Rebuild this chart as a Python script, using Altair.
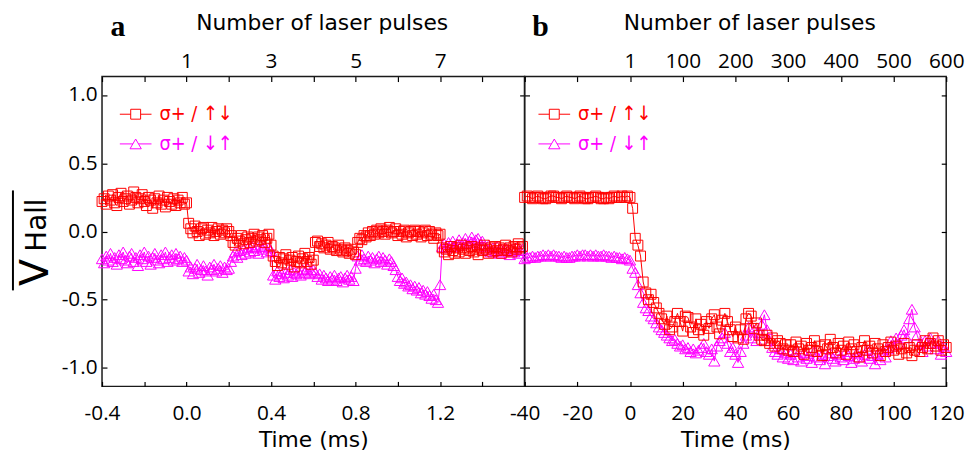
import altair as alt
import pandas as pd

RED = "#ff0000"
MAG = "#ff00ff"
LFONT = "Open Sans, Noto Sans, sans-serif"
TFONT = "DejaVu Sans, sans-serif"
LEGFONT = "Liberation Sans Narrow, DejaVu Sans Condensed, Open Sans, sans-serif"
LFS = 21
TFS = 22

# ---------------- Panel a data (time step 0.01 ms, start -0.40 ms) ----------------
a_t0, a_dt = -0.40, 0.01
a_up = [0.22, 0.24, 0.20, 0.26, 0.23, 0.27, 0.21, 0.19, 0.25, 0.28, 0.22, 0.24, 0.26, 0.20, 0.23, 0.29, 0.25, 0.21, 0.24, 0.27,
        0.22, 0.19, 0.25, 0.23, 0.17, 0.24, 0.21, 0.26, 0.20, 0.23, 0.18, 0.25, 0.22, 0.20, 0.24, 0.19, 0.23, 0.21, 0.25, 0.20, 0.21,
        0.06, 0.02, -0.01, 0.04, 0.00, -0.03, 0.02, 0.03, -0.02, 0.01, -0.01, 0.03, -0.03, 0.00, 0.02, -0.02, 0.01, -0.01, 0.02, 0.00,
        -0.03, -0.08, -0.10, -0.05, -0.07, -0.03, -0.09, -0.06, -0.04, -0.08, -0.05, -0.02, -0.07, -0.04, -0.06, -0.03, -0.08, -0.05, -0.02, -0.10,
        -0.18, -0.22, -0.25, -0.19, -0.23, -0.20, -0.17, -0.24, -0.21, -0.19, -0.26, -0.22, -0.18, -0.23, -0.20, -0.16, -0.22, -0.19, -0.24, -0.21,
        -0.08, -0.07, -0.11, -0.09, -0.12, -0.10, -0.08, -0.13, -0.11, -0.12, -0.14, -0.10, -0.13, -0.15, -0.12, -0.14, -0.16, -0.13, -0.15, -0.17,
        -0.08, -0.05, -0.06, -0.03, -0.04, -0.01, -0.03, 0.00, -0.02, 0.01, -0.01, 0.02, 0.00, -0.02, 0.01, 0.03, -0.01, 0.00, 0.02, -0.03,
        0.00, -0.02, 0.01, -0.04, -0.01, 0.00, -0.03, 0.01, -0.02, 0.00, -0.04, -0.01, 0.01, -0.03, 0.00, -0.02, -0.05, -0.01, -0.03, -0.02,
        -0.12, -0.15, -0.13, -0.17, -0.11, -0.14, -0.16, -0.12, -0.15, -0.10, -0.13, -0.16, -0.12, -0.14, -0.11, -0.15, -0.13, -0.17, -0.12, -0.14,
        -0.10, -0.13, -0.16, -0.12, -0.15, -0.11, -0.14, -0.12, -0.16, -0.13, -0.10, -0.14, -0.12, -0.15, -0.11, -0.13, -0.09, -0.12, -0.11]
a_down = [-0.20, -0.23, -0.18, -0.21, -0.16, -0.22, -0.19, -0.24, -0.17, -0.20, -0.15, -0.21, -0.23, -0.18, -0.16, -0.22, -0.19, -0.25, -0.17, -0.20,
          -0.15, -0.22, -0.18, -0.24, -0.19, -0.16, -0.21, -0.23, -0.17, -0.20, -0.15, -0.22, -0.19, -0.17, -0.21, -0.16, -0.20, -0.18, -0.22, -0.19, -0.21,
          -0.29, -0.26, -0.31, -0.27, -0.24, -0.30, -0.28, -0.25, -0.29, -0.32, -0.26, -0.28, -0.24, -0.29, -0.27, -0.25, -0.30, -0.26, -0.28, -0.27,
          -0.22, -0.18, -0.15, -0.19, -0.14, -0.17, -0.13, -0.16, -0.12, -0.15, -0.11, -0.14, -0.12, -0.16, -0.10, -0.13, -0.11, -0.15, -0.12, -0.14,
          -0.32, -0.35, -0.29, -0.33, -0.31, -0.34, -0.30, -0.32, -0.28, -0.33, -0.30, -0.31, -0.29, -0.32, -0.28, -0.30, -0.27, -0.31, -0.29, -0.28,
          -0.30, -0.33, -0.31, -0.35, -0.32, -0.34, -0.36, -0.33, -0.35, -0.32, -0.36, -0.34, -0.33, -0.37, -0.34, -0.32, -0.35, -0.33, -0.36, -0.27,
          -0.18, -0.21, -0.17, -0.20, -0.22, -0.18, -0.21, -0.19, -0.23, -0.20, -0.18, -0.22, -0.19, -0.21, -0.24, -0.20, -0.22, -0.25, -0.28, -0.33,
          -0.36, -0.34, -0.38, -0.37, -0.40, -0.39, -0.42, -0.40, -0.43, -0.41, -0.45, -0.43, -0.46, -0.44, -0.47, -0.49, -0.46, -0.50, -0.52, -0.39,
          -0.11, -0.09, -0.12, -0.08, -0.10, -0.07, -0.11, -0.09, -0.06, -0.10, -0.08, -0.05, -0.09, -0.07, -0.04, -0.08, -0.06, -0.05, -0.09, -0.07,
          -0.11, -0.13, -0.10, -0.15, -0.12, -0.14, -0.11, -0.16, -0.13, -0.15, -0.12, -0.14, -0.17, -0.13, -0.15, -0.12, -0.16, -0.14, -0.13]

# ---------------- Panel b data (time step 1 ms, -40 .. 120 ms) ----------------
b_t0, b_dt = -40, 1
b_up_pre = [0.25, 0.26, 0.25, 0.24, 0.25, 0.26, 0.25, 0.24, 0.24, 0.25, 0.26, 0.26, 0.25, 0.25, 0.24, 0.25, 0.26, 0.25, 0.25, 0.24,
            0.25, 0.26, 0.25, 0.24, 0.24, 0.25, 0.25, 0.26, 0.25, 0.24, 0.24, 0.25, 0.24, 0.25, 0.26, 0.25, 0.25, 0.26, 0.25, 0.26, 0.25]
b_up_post = [0.17, -0.05, -0.10, -0.18, -0.37, -0.45, -0.50, -0.46, -0.52, -0.56,
             -0.60, -0.64, -0.68, -0.62, -0.72, -0.70, -0.66, -0.60, -0.66, -0.73,
             -0.62, -0.63, -0.70, -0.74, -0.64, -0.72, -0.68, -0.76, -0.66, -0.71,
             -0.64, -0.61, -0.70, -0.75, -0.65, -0.60, -0.66, -0.72, -0.77, -0.70,
             -0.78, -0.72, -0.79, -0.64, -0.60, -0.62, -0.71, -0.67, -0.76, -0.79,
             -0.80, -0.76, -0.82, -0.78, -0.84, -0.80, -0.82, -0.86, -0.83, -0.87,
             -0.83, -0.88, -0.81, -0.86, -0.84, -0.90, -0.82, -0.87, -0.85, -0.80,
             -0.88, -0.84, -0.91, -0.83, -0.86, -0.79, -0.85, -0.89, -0.82, -0.87,
             -0.84, -0.90, -0.81, -0.86, -0.83, -0.88, -0.92, -0.85, -0.80, -0.87,
             -0.84, -0.89, -0.82, -0.86, -0.91, -0.83, -0.88, -0.85, -0.81, -0.87,
             -0.84, -0.90, -0.86, -0.82, -0.89, -0.85, -0.91, -0.87, -0.83, -0.88,
             -0.85, -0.80, -0.86, -0.82, -0.78, -0.84, -0.80, -0.87, -0.83, -0.85]
b_down_pre = [-0.20, -0.19, -0.19, -0.18, -0.19, -0.18, -0.18, -0.17, -0.18, -0.17, -0.18, -0.17, -0.18, -0.18, -0.19, -0.18, -0.19, -0.19, -0.18, -0.18,
              -0.17, -0.18, -0.17, -0.17, -0.18, -0.17, -0.18, -0.17, -0.18, -0.18, -0.17, -0.18, -0.18, -0.19, -0.18, -0.19, -0.19, -0.20, -0.19, -0.20, -0.21]
b_down_post = [-0.27, -0.30, -0.39, -0.45, -0.52, -0.56, -0.58, -0.62, -0.64, -0.67,
               -0.70, -0.72, -0.74, -0.76, -0.78, -0.80, -0.79, -0.82, -0.84, -0.83,
               -0.86, -0.85, -0.88, -0.86, -0.89, -0.87, -0.85, -0.82, -0.88, -0.90,
               -0.86, -0.95, -0.84, -0.80, -0.78, -0.74, -0.82, -0.88, -0.85, -0.90,
               -0.96, -0.88, -0.82, -0.76, -0.70, -0.78, -0.72, -0.80, -0.74, -0.68,
               -0.61, -0.72, -0.80, -0.85, -0.88, -0.90, -0.86, -0.92, -0.89, -0.93,
               -0.90, -0.94, -0.88, -0.92, -0.95, -0.89, -0.93, -0.91, -0.96, -0.88,
               -0.92, -0.94, -0.90, -0.97, -0.91, -0.89, -0.93, -0.95, -0.90, -0.92,
               -0.94, -0.88, -0.91, -0.96, -0.93, -0.89, -0.92, -0.95, -0.90, -0.87,
               -0.93, -0.91, -0.97, -0.90, -0.94, -0.88, -0.92, -0.86, -0.80, -0.84,
               -0.78, -0.82, -0.76, -0.72, -0.78, -0.64, -0.57, -0.70, -0.76, -0.82,
               -0.88, -0.80, -0.84, -0.78, -0.82, -0.86, -0.80, -0.90, -0.84, -0.88]

# ---------------- axes / tick values ----------------
a_domain = [-0.4, 1.6]
b_domain = [-40, 120]
y_domain = [-1.135, 1.135]
a_ticks = [-0.4, -0.2, 0.0, 0.2, 0.4, 0.6, 0.8, 1.0, 1.2, 1.4, 1.6]
b_ticks = [-40, -20, 0, 20, 40, 60, 80, 100, 120]
y_ticks = [-1.0, -0.5, 0.0, 0.5, 1.0]
legend_labels = ["σ+ / ↑↓", "σ+ / ↓↑"]
top_title = "Number of laser pulses"
bottom_title = "Time (ms)"


def series_df(t0, dt, vals):
    return pd.DataFrame({"t": [round(t0 + dt * i, 4) for i in range(len(vals))], "v": vals})


a_up_df = series_df(a_t0, a_dt, a_up)
a_down_df = series_df(a_t0, a_dt, a_down)
b_up_df = series_df(b_t0, b_dt, b_up_pre + b_up_post)
b_down_df = series_df(b_t0, b_dt, b_down_pre + b_down_post)

one = pd.DataFrame({"k": [0]})

Y_FMT = "datum.value < 0 ? '-' + format(-datum.value, '.1f') : format(datum.value, '.1f')"
A_BOTTOM = ("abs(round(datum.value*10)) % 4 == 0 && datum.value < 1.5 ? "
            "(datum.value < -0.01 ? '-' + format(-datum.value, '.1f') : format(abs(datum.value), '.1f')) : ''")
A_TOP = ("abs(round(datum.value*10)) % 4 == 0 && datum.value > -0.01 && datum.value < 1.5 ? "
         "format(round(datum.value*5) + 1, 'd') : ''")
B_BOTTOM = "datum.value < 0 ? '-' + format(-datum.value, 'd') : format(datum.value, 'd')"
B_TOP = "datum.value < 0 ? '' : (datum.value == 0 ? '1' : format(datum.value*5, 'd'))"


def legend_entry(x0, x1, xs, xt, y, color, shape, size, label):
    line = alt.Chart(one).mark_rule(color=color, strokeWidth=1).encode(
        x=alt.value(x0), x2=alt.value(x1), y=alt.value(y))
    sym = alt.Chart(one).mark_point(shape=shape, filled=True, fill="white", stroke=color,
                                    strokeWidth=1, size=size, opacity=1).encode(
        x=alt.value(xs), y=alt.value(y))
    txt = alt.Chart(one).mark_text(text=label, color=color, font=LEGFONT, fontSize=20,
                                   align="left", baseline="middle").encode(
        x=alt.value(xt), y=alt.value(y))
    return [line, sym, txt]


def panel(up_df, down_df, domain, ticks, bottom_expr, top_expr, ylabels, letter, lx, width, title_x):
    xs = alt.Scale(domain=domain, nice=False, zero=False)
    ys = alt.Scale(domain=y_domain, nice=False, zero=False)
    bottom_axis = alt.Axis(orient="bottom", values=ticks, labelExpr=bottom_expr, title=bottom_title,
                           offset=-5, tickSize=5, labelPadding=16, titlePadding=7,
                           labelFlush=False, labelOverlap=False, domain=False, grid=False)
    top_axis = alt.Axis(orient="top", values=ticks, labelExpr=top_expr, title=top_title,
                        offset=-5, tickSize=5, labelPadding=5, titlePadding=17,
                        titleX=title_x, titleAlign="center",
                        labelFlush=False, labelOverlap=False, domain=False, grid=False)
    left_axis = alt.Axis(orient="left", values=y_ticks, labelExpr=Y_FMT, title=None,
                         offset=-5, tickSize=5, labelPadding=5, labels=ylabels,
                         labelFlush=False, labelOverlap=False, domain=False, grid=False)
    right_axis = alt.Axis(orient="right", values=y_ticks, title=None, labels=False,
                          offset=-5, tickSize=5, domain=False, grid=False)

    down_line = alt.Chart(down_df).mark_line(color=MAG, strokeWidth=1).encode(
        x=alt.X("t:Q", scale=xs, axis=bottom_axis),
        y=alt.Y("v:Q", scale=ys, axis=left_axis))
    down_pts = alt.Chart(down_df).mark_point(shape="triangle-up", filled=False, color=MAG,
                                             size=130, strokeWidth=1, opacity=1).encode(
        x=alt.X("t:Q", scale=xs, axis=None), y=alt.Y("v:Q", scale=ys, axis=None))
    up_line = alt.Chart(up_df).mark_line(color=RED, strokeWidth=1).encode(
        x=alt.X("t:Q", scale=xs, axis=None), y=alt.Y("v:Q", scale=ys, axis=None))
    up_pts = alt.Chart(up_df).mark_point(shape="square", filled=False, color=RED,
                                         size=100, strokeWidth=1, opacity=1).encode(
        x=alt.X("t:Q", scale=xs, axis=None), y=alt.Y("v:Q", scale=ys, axis=None))
    axes2 = alt.Chart(up_df).mark_point(opacity=0).encode(
        x=alt.X("t:Q", scale=xs, axis=top_axis),
        y=alt.Y("v:Q", scale=ys, axis=right_axis))

    layers = [down_line, down_pts, up_line, up_pts, axes2]
    layers += legend_entry(lx - 16, lx + 16, lx, lx + 24, 38, RED, "square", 100, legend_labels[0])
    layers += legend_entry(lx - 16, lx + 16, lx, lx + 24, 68, MAG, "triangle-up", 130, legend_labels[1])
    layers.append(alt.Chart(one).mark_text(text=letter, font="Liberation Serif, DejaVu Serif, serif",
                                           fontWeight="bold", fontSize=30, align="center",
                                           baseline="middle", color="black").encode(
        x=alt.value(16), y=alt.value(-50)))
    if ylabels:
        layers.append(alt.Chart(one).mark_text(text="V", font=TFONT, fontSize=40, angle=270,
                                               align="center", baseline="alphabetic", color="black").encode(
            x=alt.value(-55), y=alt.value(198)))
        layers.append(alt.Chart(one).mark_text(text="Hall", font=TFONT, fontSize=28, angle=270,
                                               align="center", baseline="alphabetic", color="black").encode(
            x=alt.value(-57), y=alt.value(150)))
        layers.append(alt.Chart(one).mark_rule(color="black", strokeWidth=2).encode(
            x=alt.value(-90), y=alt.value(115), y2=alt.value(216)))
    return alt.layer(*layers).resolve_axis(x="independent", y="independent").properties(
        width=width, height=313)


pa = panel(a_up_df, a_down_df, a_domain, a_ticks, A_BOTTOM, A_TOP, True, "a", 34, 427, 222)
pb = panel(b_up_df, b_down_df, b_domain, b_ticks, B_BOTTOM, B_TOP, False, "b", 30, 426, 227)

chart = alt.hconcat(pa, pb, spacing=0, bounds="flush").properties(
    padding={"left": 3, "top": 0, "right": 0, "bottom": 0}
).configure_view(stroke="#1a1a1a", strokeWidth=1.5).configure_axis(
    labelFont=LFONT, labelFontSize=LFS, titleFont=TFONT, titleFontSize=TFS,
    titleFontWeight="normal", labelColor="black", titleColor="black",
    tickColor="black", tickWidth=1.2
)

chart.save("out.html", embed_options={"renderer": "svg", "actions": False})
